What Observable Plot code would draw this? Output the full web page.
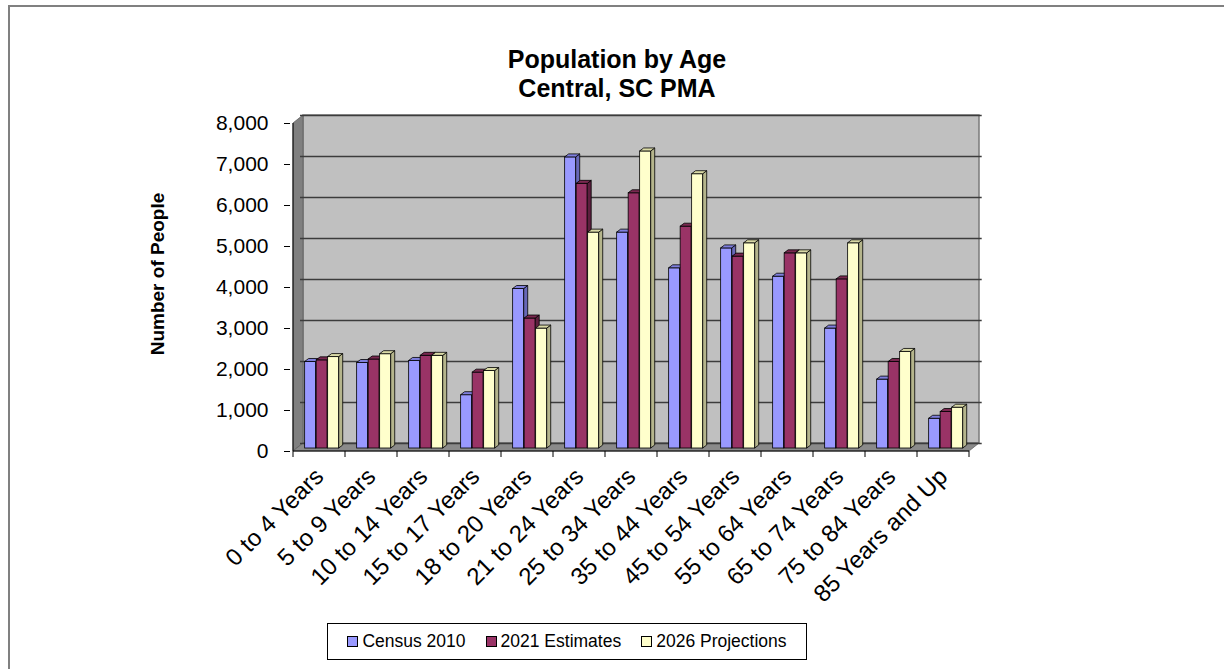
<!DOCTYPE html>
<html>
<head>
<meta charset="utf-8">
<script src="https://cdn.jsdelivr.net/npm/d3@7"></script>
<script src="https://cdn.jsdelivr.net/npm/@observablehq/plot@0.6"></script>
<style>
  html, body { margin: 0; padding: 0; background: #fff; }
  #wrap { position: relative; width: 1224px; height: 669px; overflow: hidden; font-family: "Liberation Sans", Arial, sans-serif; color: #000; }
  #chart { position: absolute; left: 0; top: 0; }
  #chart svg g[aria-label="x-axis tick label"] { font-size: 24px; }
  #border { position: absolute; left: 8px; top: 5px; width: 1400px; height: 900px; border: 2px solid #808080; box-sizing: border-box; pointer-events: none; }
  #title { position: absolute; left: 0; top: 45px; width: 1234px; text-align: center; font-weight: bold; font-size: 25px; line-height: 29px; }
  #ylabel { position: absolute; left: 158px; top: 274px; transform: translate(-50%, -50%) rotate(-90deg); font-weight: bold; font-size: 19px; white-space: nowrap; }
  #legend { position: absolute; left: 327px; top: 623px; width: 480px; height: 37px; box-sizing: border-box; border: 1px solid #000; background: #fff; display: flex; align-items: center; justify-content: center; gap: 20px; font-size: 17.5px; }
  #legend .item { display: flex; align-items: center; white-space: nowrap; }
  #legend .sw { width: 9px; height: 9px; border: 1px solid #000; margin-right: 4px; }
</style>
</head>
<body>
<div id="wrap">
  <div id="chart"></div>
  <div id="border"></div>
  <div id="title">Population by Age<br>Central, SC PMA</div>
  <div id="ylabel">Number of People</div>
  <div id="legend"></div>
</div>
<script>
// ---- Data ----
const ages = ["0 to 4 Years", "5 to 9 Years", "10 to 14 Years", "15 to 17 Years", "18 to 20 Years",
  "21 to 24 Years", "25 to 34 Years", "35 to 44 Years", "45 to 54 Years", "55 to 64 Years",
  "65 to 74 Years", "75 to 84 Years", "85 Years and Up"];
const seriesNames = ["Census 2010", "2021 Estimates", "2026 Projections"];
const census2010 = [2110, 2085, 2135, 1300, 3890, 7100, 5265, 4395, 4880, 4190, 2925, 1680, 725];
const estimates2021 = [2150, 2170, 2260, 1850, 3170, 6455, 6225, 5410, 4680, 4760, 4125, 2110, 890];
const projections2026 = [2230, 2300, 2260, 1890, 2925, 5265, 7245, 6690, 5005, 4760, 5005, 2355, 995];
const yTicks = [0, 1000, 2000, 3000, 4000, 5000, 6000, 7000, 8000];

// ---- Styles ----
const frontColors = ["#9999FF", "#993366", "#FFFFCC"];
const sideColors = ["#6767B8", "#5E1F3F", "#B5B58C"];
const topColors = ["#7F7FDD", "#7A2850", "#DADAA6"];

(function () {
const seriesValues = [census2010, estimates2021, projections2026];
const rows = seriesNames.flatMap((s, k) => ages.map((a, i) => ({ age: a, series: s, value: seriesValues[k][i] })));

const W = 1224, H = 669;
const mLeft = 290, mRightX = 971.7, mTopY = 123, mBottomY = 451;
const depth = { x: 10, y: -8 };       // wall depth
const barPlane = { x: 3.75, y: -3 };  // plane of bar fronts
const barDepth = { x: 4, y: -3 };     // bar thickness
const bw = (mRightX - mLeft) / ages.length;
const barW = 11.5, lead = 7.9;
const fmt = d => d.toLocaleString("en-US");

const marks = [
  Plot.ruleY(yTicks, { dx: depth.x, dy: depth.y, stroke: "#3c3c3c", strokeWidth: 1.6 }),
  ...seriesNames.map((s, k) => Plot.barY(rows.filter(d => d.series === s), {
    x: "age", y: "value",
    fill: frontColors[k], stroke: "#000", strokeWidth: 0.8,
    insetLeft: lead + k * barW, insetRight: bw - lead - (k + 1) * barW,
    dx: barPlane.x, dy: barPlane.y
  }))
];

const plot = Plot.plot({
  width: W, height: H,
  marginLeft: mLeft, marginRight: W - mRightX, marginTop: mTopY, marginBottom: H - mBottomY,
  style: { fontFamily: "Liberation Sans, Arial, sans-serif", fontSize: "21px", color: "#000", background: "transparent", overflow: "visible" },
  x: { domain: ages, padding: 0, tickSize: 0, tickRotate: -45, tickPadding: 21, label: null },
  y: { domain: [0, 8000], ticks: yTicks, tickFormat: fmt, tickSize: 6, tickPadding: 16, label: null },
  marks
});
document.getElementById("chart").appendChild(plot);

// ---- 3D decorations from the library's scales ----
const svg = d3.select(plot);
const ys = plot.scale("y"), xs = plot.scale("x");
const y0 = ys.apply(0), y8 = ys.apply(8000);
const xL = xs.apply(ages[0]), xR = xs.apply(ages[ages.length - 1]) + xs.bandwidth;
const pts = a => a.map(p => p.join(",")).join(" ");
const deco = svg.insert("g", "g").attr("aria-label", "walls");
deco.append("polygon").attr("points", pts([[xL + depth.x, y8 + depth.y], [xR + depth.x, y8 + depth.y], [xR + depth.x, y0 + depth.y], [xL + depth.x, y0 + depth.y]]))
  .attr("fill", "#C0C0C0").attr("stroke", "#7a7a7a").attr("stroke-width", 1.5);
deco.append("polygon").attr("points", pts([[xL, y8], [xL + depth.x, y8 + depth.y], [xL + depth.x, y0 + depth.y], [xL, y0]]))
  .attr("fill", "#808080").attr("stroke", "#606060").attr("stroke-width", 0.8);
deco.append("polygon").attr("points", pts([[xL, y0], [xL + depth.x, y0 + depth.y], [xR + depth.x, y0 + depth.y], [xR, y0]]))
  .attr("fill", "#8A8A8A").attr("stroke", "#606060").attr("stroke-width", 0.8);
const axes = svg.append("g").attr("aria-label", "axis lines").attr("stroke", "#000").attr("stroke-width", 1);
axes.append("line").attr("x1", xL).attr("x2", xL).attr("y1", y8).attr("y2", y0);
axes.append("line").attr("x1", xL).attr("x2", xR).attr("y1", y0).attr("y2", y0);
ages.concat([null]).forEach((a) => {
  const xb = a === null ? xR : xs.apply(a);
  axes.append("line").attr("x1", xb).attr("x2", xb).attr("y1", y0).attr("y2", y0 + 6);
});

// bar side and top faces
svg.selectAll('g[aria-label="bar"]').each(function (_, k) {
  Array.from(this.querySelectorAll("rect")).forEach(r => {
    const x = +r.getAttribute("x"), y = +r.getAttribute("y");
    const w = +r.getAttribute("width"), h = +r.getAttribute("height");
    const parent = r.parentNode, next = r.nextSibling;
    const side = document.createElementNS("http://www.w3.org/2000/svg", "polygon");
    side.setAttribute("points", pts([[x + w, y], [x + w + barDepth.x, y + barDepth.y], [x + w + barDepth.x, y + h + barDepth.y], [x + w, y + h]]));
    side.setAttribute("fill", sideColors[k]); side.setAttribute("stroke", "#000"); side.setAttribute("stroke-width", 0.8);
    const topF = document.createElementNS("http://www.w3.org/2000/svg", "polygon");
    topF.setAttribute("points", pts([[x, y], [x + barDepth.x, y + barDepth.y], [x + w + barDepth.x, y + barDepth.y], [x + w, y]]));
    topF.setAttribute("fill", topColors[k]); topF.setAttribute("stroke", "#000"); topF.setAttribute("stroke-width", 0.8);
    parent.insertBefore(side, next);
    parent.insertBefore(topF, next);
  });
});

// ---- Legend ----
const legend = d3.select("#legend");
seriesNames.forEach((s, k) => {
  const it = legend.append("div").attr("class", "item");
  it.append("div").attr("class", "sw").style("background", frontColors[k]);
  it.append("span").text(s);
});
})();
</script>
</body>
</html>
